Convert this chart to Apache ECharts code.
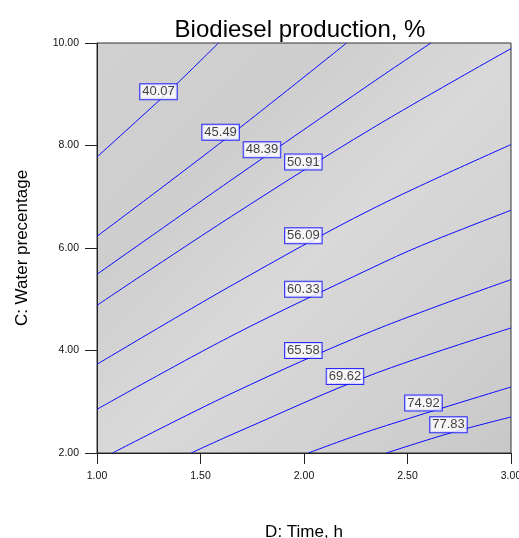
<!DOCTYPE html>
<html>
<head>
<meta charset="utf-8">
<script src="https://cdn.jsdelivr.net/npm/echarts@6/dist/echarts.min.js"></script>
<style>html,body{margin:0;padding:0;background:#fff}#c{width:519px;height:538px}</style>
</head>
<body>
<div id="c"></div>
<script>
// Axis ticks
const xTicks = [1.00, 1.50, 2.00, 2.50, 3.00];
const yTicks = [2.00, 4.00, 6.00, 8.00, 10.00];

// Contour levels (labels)
const levels = ['40.07', '45.49', '48.39', '50.91', '56.09', '60.33', '65.58', '69.62', '74.92', '77.83'];

// Contour lines: [Time h, Water %]
const c40_07 = [[1.0, 7.776], [1.305, 8.896], [1.39, 9.22], [1.587, 10.0]];
const c45_49 = [[1.0, 6.228], [1.608, 8.088], [2.206, 10.0]];
const c48_39 = [[1.0, 5.487], [1.657, 7.35], [2.327, 9.22], [2.613, 10.0]];
const c50_91 = [[1.0, 4.882], [1.65, 6.619], [2.327, 8.33], [3.0, 9.891]];
const c56_09 = [[1.0, 3.731], [1.655, 5.28], [2.327, 6.757], [3.0, 8.018]];
const c60_33 = [[1.0, 2.853], [1.657, 4.30], [2.327, 5.61], [2.568, 6.05], [3.0, 6.736]];
const c65_58 = [[1.075, 2.0], [1.657, 3.175], [2.327, 4.375], [3.0, 5.383]];
const c69_62 = [[1.455, 2.0], [1.657, 2.37], [2.327, 3.526], [3.0, 4.439]];
const c74_92 = [[2.021, 2.0], [2.327, 2.443], [3.0, 3.288]];
const c77_83 = [[2.398, 2.0], [2.713, 2.398], [3.0, 2.702]];
const contours = [c40_07, c45_49, c48_39, c50_91, c56_09, c60_33, c65_58, c69_62, c74_92, c77_83];

// Label anchor positions on each contour (data coords)
const labelX = [1.297, 1.597, 1.797, 1.997, 1.997, 1.997, 1.997, 2.198, 2.577, 2.698];
const labelY = [9.048, 8.258, 7.916, 7.678, 6.238, 5.194, 3.998, 3.491, 2.974, 2.55];

const chart = echarts.init(document.getElementById('c'), null, {renderer: 'canvas'});
const FONT = 'Liberation Sans, Arial, sans-serif';

const lineSeries = contours.map((d, i) => ({
  type: 'line',
  name: levels[i],
  data: d,
  showSymbol: false,
  symbol: 'none',
  smooth: 0.35,
  clip: true,
  lineStyle: {color: '#0a0aff', width: 1},
  z: 2,
  silent: true
}));

const labelSeries = {
  type: 'scatter',
  data: levels.map((t, i) => [labelX[i], labelY[i], t]),
  symbolSize: 1,
  itemStyle: {color: 'rgba(0,0,0,0)'},
  z: 5,
  silent: true,
  label: {
    show: true,
    position: 'inside',
    formatter: p => p.value[2],
    fontFamily: FONT,
    fontSize: 13,
    lineHeight: 14,
    color: '#111',
    backgroundColor: '#ffffff',
    borderColor: '#0000ff',
    borderWidth: 1,
    padding: [1, 2, 0, 2]
  }
};

chart.setOption({
  animation: false,
  backgroundColor: '#ffffff',
  title: {
    text: 'Biodiesel production, %',
    left: 295,
    top: 13,
    textAlign: 'center',
    textStyle: {fontFamily: FONT, fontSize: 24, fontWeight: 'normal', color: '#000'}
  },
  grid: {
    left: 97, right: 8, top: 43, bottom: 85,
    outerBoundsMode: 'none',
    containLabel: false,
    show: true,
    borderColor: '#333',
    borderWidth: 1,
    backgroundColor: {
      type: 'linear', x: 0, y: 0, x2: 1, y2: 1,
      colorStops: [
        {offset: 0, color: '#d1d1d1'},
        {offset: 0.28, color: '#cecece'},
        {offset: 0.52, color: '#d9d9d9'},
        {offset: 0.78, color: '#d1d1d1'},
        {offset: 1, color: '#c8c8c8'}
      ]
    }
  },
  xAxis: {
    type: 'value',
    min: xTicks[0], max: xTicks[xTicks.length - 1], interval: 0.5,
    name: 'D: Time, h',
    nameLocation: 'middle',
    nameGap: 71,
    nameTextStyle: {fontFamily: FONT, fontSize: 17, color: '#000'},
    axisLine: {show: true, lineStyle: {color: '#222', width: 1}},
    axisTick: {show: true, inside: false, length: 11, lineStyle: {color: '#222'}},
    axisLabel: {margin: 18, fontFamily: FONT, fontSize: 10.5, color: '#111', formatter: v => v.toFixed(2), showMaxLabel: true, showMinLabel: true, hideOverlap: false},
    splitLine: {show: false}
  },
  yAxis: {
    type: 'value',
    min: yTicks[0], max: yTicks[yTicks.length - 1], interval: 2,
    name: 'C: Water precentage',
    nameLocation: 'middle',
    nameGap: 66,
    nameRotate: 90,
    nameTextStyle: {fontFamily: FONT, fontSize: 17, color: '#000'},
    axisLine: {show: true, lineStyle: {color: '#222', width: 1}},
    axisTick: {show: true, inside: false, length: 12, lineStyle: {color: '#222'}},
    axisLabel: {margin: 18, fontFamily: FONT, fontSize: 10.5, color: '#111', formatter: v => v.toFixed(2)},
    splitLine: {show: false}
  },
  series: [...lineSeries, labelSeries]
});
</script>
</body>
</html>
